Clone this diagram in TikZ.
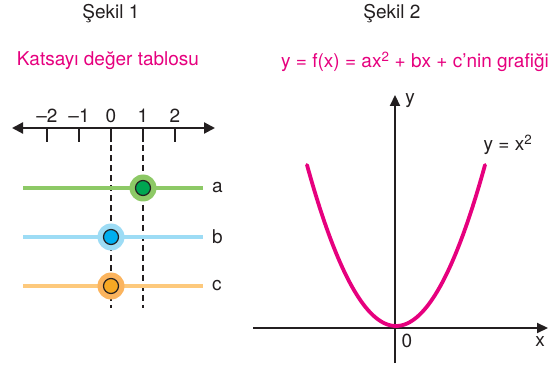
\documentclass[tikz,border=0pt]{standalone}
\usepackage{fontspec}
\setmainfont{TeX Gyre Heros}
\usetikzlibrary{arrows.meta,positioning}

\definecolor{mag}{HTML}{E6007E}
\definecolor{grnL}{HTML}{8DC966}
\definecolor{grnD}{HTML}{00A651}
\definecolor{bluL}{HTML}{9DDCF5}
\definecolor{bluD}{HTML}{00AEEF}
\definecolor{orgL}{HTML}{FDC97C}
\definecolor{orgM}{HTML}{FBB45E}
\definecolor{orgD}{HTML}{F7A823}
\definecolor{ink}{HTML}{231F20}

\begin{document}
\begin{tikzpicture}[x=1pt, y=-1pt,
  txt/.style={font=\fontsize{19}{21}\selectfont, text=ink, inner sep=0pt},
  head/.style={txt, text=mag},
  axis/.style={{Triangle[length=11pt, width=11pt]}-{Triangle[length=11pt, width=11pt]},
               line width=2.2pt, draw=ink},
  yaxis/.style={-{Triangle[length=11pt, width=10pt]}, line width=2.2pt, draw=ink},
  tick/.style={line width=1.6pt, draw=ink},
  guide/.style={line width=2.6pt, draw=ink, dash pattern=on 6pt off 4pt},
  coef/.style={line width=4pt, draw=#1},
  halo/.style={circle, fill=#1, minimum size=27pt, inner sep=0pt},
  dot/.style={circle, fill=#1, draw=ink, line width=1.2pt, minimum size=15pt, inner sep=0pt}]
\useasboundingbox (0,0) rectangle (560,366);

% Sekil 1
\node[txt] (s1) at (111,14) {Şekil 1};
\node[head] (t1) at (108,61) {Katsayı değer tablosu};
\coordinate (nl) at (12,128);
\coordinate (nr) at (215,128);
\draw[axis] (nl) -- (nr);
\foreach \v/\px in {-2/47,-1/79,0/111,1/143,2/175}{
  \draw[tick] (\px,128) -- (\px,142);
  \node[txt] (n\v) at (\px,116) {\ifnum\v<0 –\fi\ifnum\v<0 \the\numexpr-\v\relax\else\v\fi};
}
\draw[guide] (111,145) -- (111,308);
\draw[guide] (143,145) -- (143,308);

\foreach \k/\yy/\cL/\cM/\cD/\px in {a/188/grnL/grnL/grnD/143,
                                    b/237/bluL/bluL/bluD/111,
                                    c/286/orgL/orgM/orgD/111}{
  \draw[coef=\cL] (23,\yy) -- (203,\yy) coordinate (e\k);
  \node[txt, right=9pt of e\k] (l\k) {\k};
  \node[halo=\cM] (h\k) at (\px,\yy) {};
  \node[dot=\cD] (d\k) at (h\k) {};
}

% Sekil 2
\node[txt] (s2) at (392,14) {Şekil 2};
\node[head] (t2) at (415,62) {y = f(x) = ax\textsuperscript{2} + bx + c’nin grafiği};
\coordinate (o) at (395,328);
\draw[yaxis] (253,328) -- (548,328);
\draw[yaxis] (395,363) -- (395,95);
\node[txt] (ly) at (410,101) {y};
\node[txt] (lx) at (540,342) {x};
\node[txt] (l0) at (407,341) {0};
\draw[mag, line width=3.8pt, line cap=round]
  plot[domain=-89:89, samples=80, smooth] ({396+\x},{326-161*(\x/89)*(\x/89)});
\node[txt] (lf) at (508,145) {y = x\textsuperscript{2}};
\end{tikzpicture}
\end{document}
